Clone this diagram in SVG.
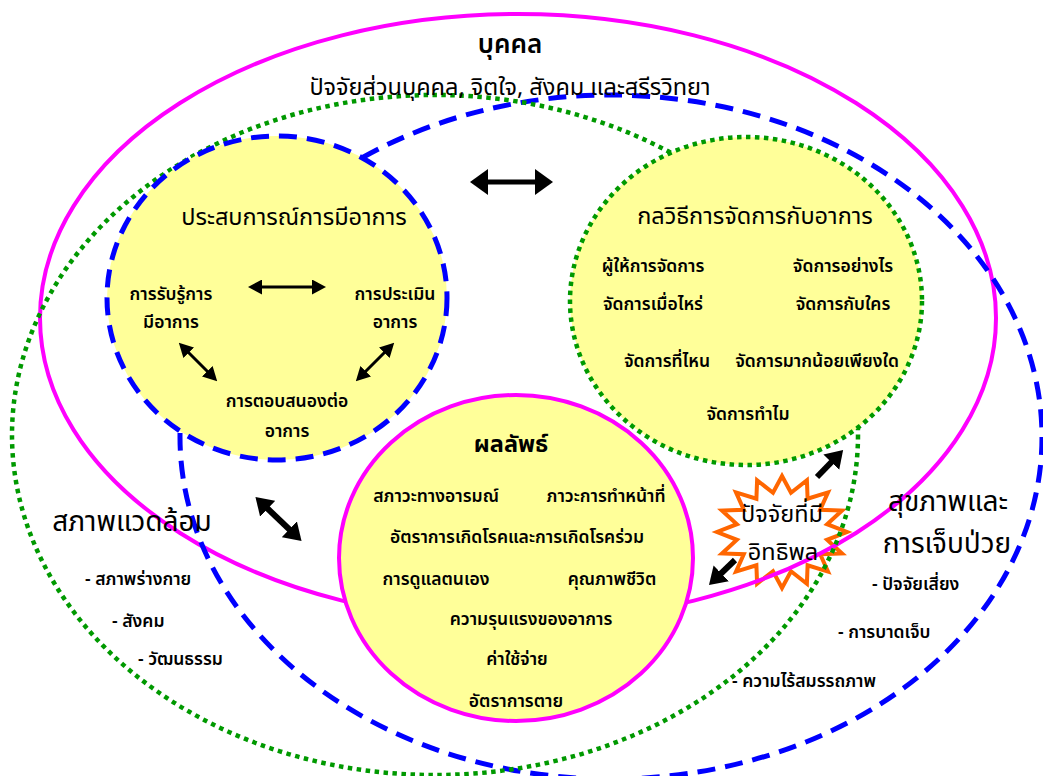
<svg xmlns="http://www.w3.org/2000/svg" width="1043" height="776" viewBox="0 0 1043 776">
<style>
text{font-family:"Noto Sans Thai","Loma","Garuda","Norasi","Tlwg Typo","Noto Sans","DejaVu Sans",sans-serif;fill:#000;text-anchor:middle}
.h1{font-size:26px;font-weight:600}
.h2{font-size:23.5px}
.t{font-size:17.5px;font-weight:600}
.s{font-size:17.5px;font-weight:600;text-anchor:start}
.big{font-size:28px}
.mag{fill:none;stroke:#FF00FF;stroke-width:4}
.blu{fill:none;stroke:#0000FF;stroke-width:5;stroke-dasharray:18 10}
.grn{fill:none;stroke:#009900;stroke-width:4.5;stroke-dasharray:4.5 4.5}
.fill{fill:#FFFF99}
.arr{stroke:#000;fill:none}
</style>
<defs>
<marker id="hb" markerUnits="userSpaceOnUse" markerWidth="18" markerHeight="26" viewBox="0 0 18 26" refX="1" refY="13" orient="auto-start-reverse"><path d="M0,0 L18,13 L0,26 z" fill="#000"/></marker>
<marker id="hs" markerUnits="userSpaceOnUse" markerWidth="14" markerHeight="15" viewBox="0 0 14 15" refX="1" refY="7.5" orient="auto-start-reverse"><path d="M0,0 L14,7.5 L0,15 z" fill="#000"/></marker>
<marker id="hm" markerUnits="userSpaceOnUse" markerWidth="17" markerHeight="22" viewBox="0 0 17 22" refX="1" refY="11" orient="auto-start-reverse"><path d="M0,0 L17,11 L0,22 z" fill="#000"/></marker>
</defs>
<rect width="1043" height="776" fill="#fff"/>
<g id="starburst">
<polygon points="782,476 791,492.8 806.9,480.3 807.6,498.7 828,492.4 820.2,509.8 842,510.6 827.1,524.2 847,532 827.1,539.8 842,553.4 820.2,554.2 828,571.6 807.6,565.3 806.9,583.7 791,571.2 782,588 773,571.2 757.1,583.7 756.4,565.3 736,571.6 743.8,554.2 722,553.4 736.9,539.8 717,532 736.9,524.2 722,510.6 743.8,509.8 736,492.4 756.4,498.7 757.1,480.3 773,492.8" fill="#fff" stroke="#FF6600" stroke-width="4" stroke-linejoin="miter"/>
</g>
<g id="person">
<ellipse class="mag" cx="518" cy="318" rx="478" ry="304"/>
</g>
<g id="health">
<ellipse class="blu" cx="611" cy="437" rx="431" ry="342"/>
</g>
<g id="environment">
<ellipse class="grn" cx="435" cy="435" rx="423" ry="340"/>
</g>
<g id="experience">
<ellipse class="fill" cx="277" cy="298" rx="170" ry="162"/>
<ellipse class="blu" cx="277" cy="298" rx="170" ry="162"/>
</g>
<g id="strategies">
<ellipse class="fill" cx="746" cy="301" rx="176" ry="164"/>
<ellipse class="grn" cx="746" cy="301" rx="176" ry="164"/>
</g>
<g id="outcomes">
<ellipse class="fill" cx="516" cy="558" rx="177" ry="163"/>
<ellipse class="mag" cx="516" cy="558" rx="177" ry="163"/>
</g>
<g id="connectors">
<line class="arr" x1="487" y1="182" x2="536" y2="182" stroke-width="5" marker-start="url(#hb)" marker-end="url(#hb)"/>
<line class="arr" x1="261" y1="287" x2="313" y2="287" stroke-width="3" marker-start="url(#hs)" marker-end="url(#hs)"/>
<line class="arr" x1="188" y1="352" x2="208" y2="372" stroke-width="3" marker-start="url(#hs)" marker-end="url(#hs)"/>
<line class="arr" x1="385" y1="352" x2="365" y2="372" stroke-width="3" marker-start="url(#hs)" marker-end="url(#hs)"/>
<line class="arr" x1="267" y1="508" x2="290" y2="530" stroke-width="6" marker-start="url(#hm)" marker-end="url(#hm)"/>
<line class="arr" x1="817" y1="477" x2="832" y2="461.5" stroke-width="6" marker-end="url(#hm)"/>
<line class="arr" x1="735" y1="560" x2="720.5" y2="574" stroke-width="6" marker-end="url(#hm)"/>
</g>
<g id="labels">
<text class="h1" x="510" y="53">บุคคล</text>
<text class="h2" x="510" y="95">ปัจจัยส่วนบุคคล, จิตใจ, สังคม และสรีรวิทยา</text>
<text class="h2" x="294" y="225">ประสบการณ์การมีอาการ</text>
<text class="t" x="171" y="300">การรับรู้การ</text>
<text class="t" x="171" y="328">มีอาการ</text>
<text class="t" x="395" y="300">การประเมิน</text>
<text class="t" x="395" y="328">อาการ</text>
<text class="t" x="287" y="407">การตอบสนองต่อ</text>
<text class="t" x="287" y="437">อาการ</text>
<text class="h2" x="755" y="224">กลวิธีการจัดการกับอาการ</text>
<text class="t" x="653" y="272">ผู้ให้การจัดการ</text>
<text class="t" x="843" y="272">จัดการอย่างไร</text>
<text class="t" x="653" y="310">จัดการเมื่อไหร่</text>
<text class="t" x="843" y="310">จัดการกับใคร</text>
<text class="t" x="667" y="367">จัดการที่ไหน</text>
<text class="t" x="817" y="367">จัดการมากน้อยเพียงใด</text>
<text class="t" x="748" y="420">จัดการทำไม</text>
<text class="h2" x="511" y="452" font-weight="bold">ผลลัพธ์</text>
<text class="t" x="436" y="502">สภาวะทางอารมณ์</text>
<text class="t" x="606" y="502">ภาวะการทำหน้าที่</text>
<text class="t" x="517" y="543">อัตราการเกิดโรคและการเกิดโรคร่วม</text>
<text class="t" x="436" y="585">การดูแลตนเอง</text>
<text class="t" x="612" y="585">คุณภาพชีวิต</text>
<text class="t" x="531" y="625">ความรุนแรงของอาการ</text>
<text class="t" x="517" y="665">ค่าใช้จ่าย</text>
<text class="t" x="516" y="707">อัตราการตาย</text>
<text class="big" x="132" y="531">สภาพแวดล้อม</text>
<text class="s" x="85" y="585">- สภาพร่างกาย</text>
<text class="s" x="112" y="627">- สังคม</text>
<text class="s" x="138" y="665">- วัฒนธรรม</text>
<text class="big" x="948" y="511">สุขภาพและ</text>
<text class="big" x="947" y="553">การเจ็บป่วย</text>
<text class="s" x="872" y="590">- ปัจจัยเสี่ยง</text>
<text class="s" x="838" y="638">- การบาดเจ็บ</text>
<text class="s" x="732" y="687">- ความไร้สมรรถภาพ</text>
<text class="h2" x="782" y="522">ปัจจัยที่มี</text>
<text class="h2" x="783" y="560">อิทธิพล</text>
</g>
</svg>
